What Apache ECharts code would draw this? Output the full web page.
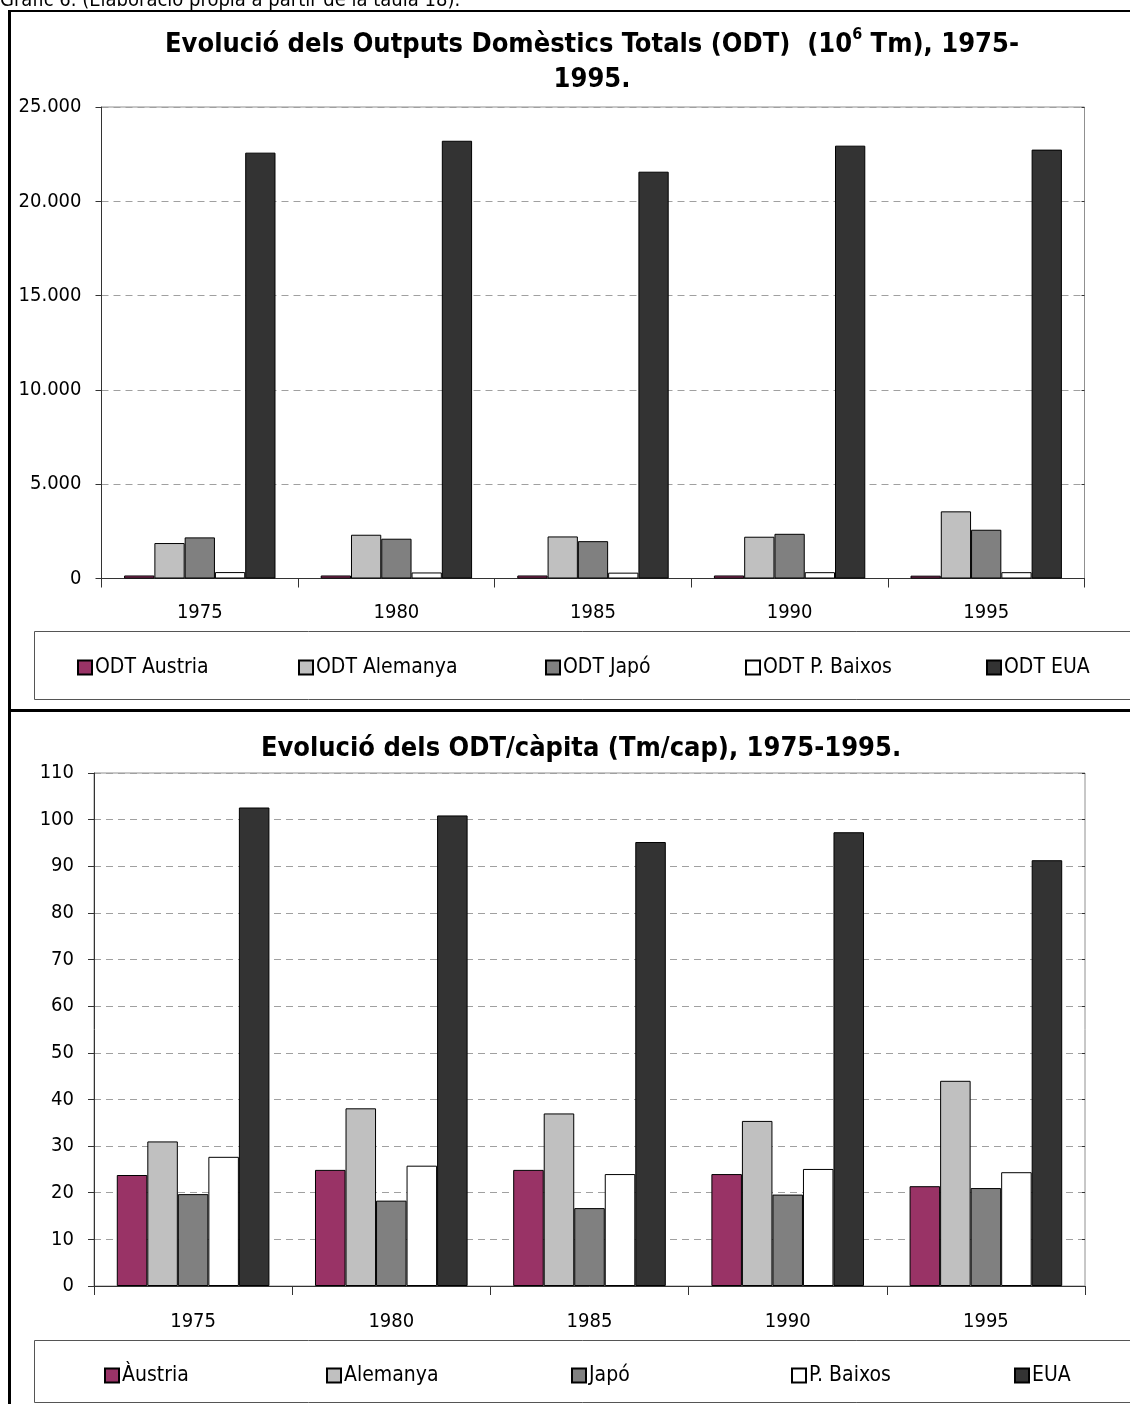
<!DOCTYPE html>
<html>
<head>
<meta charset="utf-8">
<script src="https://cdn.jsdelivr.net/npm/echarts@6/dist/echarts.min.js"></script>
<style>
  html, body { margin: 0; padding: 0; background: #fff; }
  #chart { width: 1130px; height: 1404px; }
</style>
</head>
<body>
<div id="chart"></div>
<script>
// categories
const years = ['1975', '1980', '1985', '1990', '1995'];

// top chart: ODT (10^6 Tm)
const odtNames = ['ODT Austria', 'ODT Alemanya', 'ODT Japó', 'ODT P. Baixos', 'ODT EUA'];
const odtAustria = [160, 160, 160, 160, 150];
const odtAlemanya = [1880, 2320, 2230, 2215, 3560];
const odtJapo = [2180, 2110, 1980, 2370, 2585];
const odtBaixos = [340, 320, 310, 335, 335];
const odtEUA = [22580, 23210, 21570, 22950, 22740];

// bottom chart: ODT/capita (Tm/cap)
const capNames = ['Àustria', 'Alemanya', 'Japó', 'P. Baixos', 'EUA'];
const capAustria = [23.8, 24.9, 24.9, 24.0, 21.4];
const capAlemanya = [31.0, 38.1, 37.0, 35.4, 44.0];
const capJapo = [19.7, 18.3, 16.7, 19.6, 21.0];
const capBaixos = [27.7, 25.8, 24.0, 25.1, 24.4];
const capEUA = [102.6, 100.9, 95.2, 97.3, 91.3];

const colors = ['#993366', '#C0C0C0', '#808080', '#FFFFFF', '#333333'];
const FONT = '"DejaVu Sans Condensed", "DejaVu Sans", sans-serif';

// where each legend entry starts (x of the little square)
const topLegendX = [77, 298, 545, 745, 986];
const capLegendX = [104, 326, 571, 791, 1014];

const chart = echarts.init(document.getElementById('chart'), null, { renderer: 'canvas' });

const thousands = (v) => String(v).replace(/\B(?=(\d{3})+(?!\d))/g, '.');

const xAxisBase = (gridIndex, margin) => ({
    type: 'category',
    gridIndex: gridIndex,
    data: years,
    boundaryGap: true,
    axisLine: { lineStyle: { color: '#333', width: 1 } },
    axisTick: { show: true, length: 9, interval: 0, lineStyle: { color: '#333' } },
    axisLabel: { color: '#000', fontFamily: FONT, fontSize: 20, margin: margin },
    splitLine: { show: false }
});
// upper half of the crossing tick marks
const xAxisInner = (gridIndex) => ({
    type: 'category',
    gridIndex: gridIndex,
    data: years,
    boundaryGap: true,
    axisLine: { show: false },
    axisTick: { show: true, inside: true, length: 6, interval: 0, lineStyle: { color: '#333' } },
    axisLabel: { show: false },
    splitLine: { show: false }
});

const yAxisBase = (gridIndex, max, interval, fmt) => ({
    type: 'value',
    gridIndex: gridIndex,
    min: 0,
    max: max,
    interval: interval,
    axisLine: { show: true, lineStyle: { color: '#333', width: 1 } },
    axisTick: { show: true, length: 6, lineStyle: { color: '#333' } },
    axisLabel: { color: '#000', fontFamily: FONT, fontSize: 20, margin: 20, formatter: fmt },
    splitLine: { show: true, lineStyle: { color: '#a0a0a0', type: [7, 5], width: 1 } }
});
const yAxisInner = (gridIndex, max, interval) => ({
    type: 'value',
    gridIndex: gridIndex,
    min: 0,
    max: max,
    interval: interval,
    axisLine: { show: false },
    axisTick: { show: true, inside: true, length: 3, lineStyle: { color: '#333' } },
    axisLabel: { show: false },
    splitLine: { show: false }
});

const barSeries = (name, data, i, axisIndex) => ({
    name: name,
    type: 'bar',
    xAxisIndex: axisIndex,
    yAxisIndex: axisIndex,
    data: data,
    barGap: '0%',
    barCategoryGap: '23%',
    itemStyle: { color: colors[i], borderColor: '#000', borderWidth: 1 },
    emphasis: { disabled: true }
});

const topData = [odtAustria, odtAlemanya, odtJapo, odtBaixos, odtEUA];
const capData = [capAustria, capAlemanya, capJapo, capBaixos, capEUA];

const legendItem = (name, top, left) => ({
    data: [name],
    top: top,
    left: left,
    padding: 0,
    orient: 'horizontal',
    icon: 'rect',
    itemWidth: 14,
    itemHeight: 14,
    selectedMode: false,
    textStyle: { color: '#000', fontFamily: FONT, fontSize: 21, padding: [0, 0, 0, -2] }
});

const option = {
    animation: false,
    backgroundColor: '#fff',
    grid: [
        { left: 101.5, top: 107, width: 983, height: 471.5, show: true, borderColor: '#909090', borderWidth: 1, containLabel: false },
        { left: 94, top: 773, width: 991, height: 513, show: true, borderColor: '#909090', borderWidth: 1, containLabel: false }
    ],
    xAxis: [xAxisBase(0, 24), xAxisBase(1, 26), xAxisInner(0), xAxisInner(1)],
    yAxis: [yAxisBase(0, 25000, 5000, thousands), yAxisBase(1, 110, 10, null), yAxisInner(0, 25000, 5000), yAxisInner(1, 110, 10)],
    legend: [
        ...odtNames.map((n, i) => legendItem(n, 657, topLegendX[i])),
        ...capNames.map((n, i) => legendItem(n, 1365, capLegendX[i]))
    ],
    series: [
        ...odtNames.map((n, i) => barSeries(n, topData[i], i, 0)),
        ...capNames.map((n, i) => barSeries(n, capData[i], i, 1))
    ],
    graphic: [
        // caption above the frame
        { type: 'text', x: 0, y: -9, style: { text: 'Gràfic 6. (Elaboració pròpia a partir de la taula 18).', font: '20px ' + FONT, fill: '#000' } },
        // frame
        { type: 'rect', shape: { x: 8, y: 10, width: 1130, height: 2 }, style: { fill: '#000' } },
        { type: 'rect', shape: { x: 8, y: 10, width: 3, height: 1400 }, style: { fill: '#000' } },
        { type: 'rect', shape: { x: 8, y: 709, width: 1130, height: 3 }, style: { fill: '#000' } },
        // legend boxes
        { type: 'rect', shape: { x: 34.5, y: 631.5, width: 1110, height: 68 }, style: { fill: 'none', stroke: '#555', lineWidth: 1 } },
        { type: 'rect', shape: { x: 34.5, y: 1340.5, width: 1110, height: 62 }, style: { fill: 'none', stroke: '#555', lineWidth: 1 } },
        // titles
        {
            type: 'text', x: 592, y: 27,
            style: {
                text: '{b|Evolució dels Outputs Domèstics Totals (ODT)  (10}{s|6}{b| Tm), 1975-}\n{b|1995.}',
                textAlign: 'center',
                rich: {
                    b: { font: 'bold 27px ' + FONT, fill: '#000', lineHeight: 35 },
                    s: { font: 'bold 16px ' + FONT, fill: '#000', lineHeight: 35, verticalAlign: 'top', padding: [0, 0, 12, 0] }
                }
            }
        },
        {
            type: 'text', x: 581, y: 735,
            style: { text: 'Evolució dels ODT/càpita (Tm/cap), 1975-1995.', textAlign: 'center', font: 'bold 27px ' + FONT, fill: '#000' }
        }
    ]
};

chart.setOption(option);
</script>
</body>
</html>
